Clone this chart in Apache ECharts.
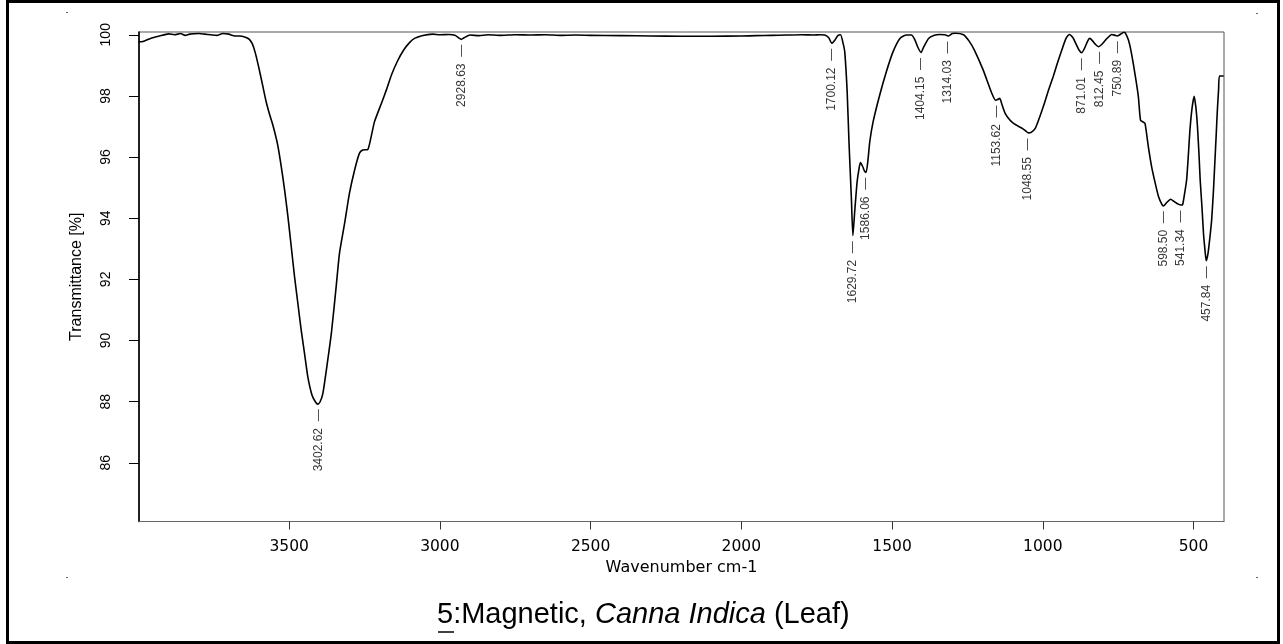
<!DOCTYPE html>
<html>
<head>
<meta charset="utf-8">
<style>
  html, body { margin: 0; padding: 0; background: #fff; }
  #chart { width: 1283px; height: 644px; }
</style>
<script src="https://cdn.jsdelivr.net/npm/echarts@6.0.0/dist/echarts.min.js"></script>
</head>
<body>
<div id="chart"></div>
<script>
// Spectrum (wavenumber cm-1, transmittance %)
const wavenumbers = [4000,3985,3960,3930,3900,3880,3860,3845,3830,3800,3780,3760,3740,3720,3700,3680,3665,3645,3632,3622,3612,3600,3588,3576,3565,3554,3538,3526,3515,3504,3493,3482,3471,3460,3449,3438,3424,3412,3405,3398,3388,3375,3360,3344,3333,3316,3300,3283,3267,3256,3239,3228,3217,3194,3178,3160,3140,3120,3100,3084,3060,3024,3000,2970,2950,2935,2929,2920,2900,2870,2840,2800,2750,2700,2650,2600,2550,2500,2400,2300,2200,2100,2000,1950,1900,1850,1800,1760,1740,1723,1710,1700,1690,1680,1671,1662,1657,1649,1643,1635,1630,1624,1616,1610,1605,1598,1592,1586,1580,1574,1563,1541,1519,1497,1474,1452,1436,1425,1415,1404,1395,1379,1360,1343,1325,1314,1300,1290,1263,1245,1227,1198,1169,1157,1150,1143,1135,1125,1110,1097,1080,1068,1055,1048,1040,1025,1010,995,981,966,952,937,923,912,900,890,880,871,862,850,844,835,825,815,805,790,771,760,753,745,731,727,716,708,700,690,683,676,668,661,650,639,627,616,605,600,590,576,565,551,541,536,529,523,517,512,505,498,492,487,482,478,472,467,462,458,452,446,440,434,429,425,421,417,414,400];
const transmittance = [99.77,99.78,99.88,99.96,100.03,100.00,100.04,99.98,100.02,100.04,100.02,100.00,99.98,100.04,100.02,99.96,99.96,99.92,99.85,99.70,99.40,98.90,98.35,97.80,97.40,97.05,96.40,95.68,94.92,94.05,93.07,92.08,91.21,90.34,89.58,88.81,88.21,87.98,87.92,87.98,88.27,89.14,90.23,91.76,92.85,93.83,94.81,95.57,96.12,96.23,96.25,96.66,97.15,97.75,98.18,98.70,99.15,99.50,99.75,99.88,99.97,100.02,100.00,100.01,99.98,99.88,99.85,99.90,99.99,99.97,100.00,99.98,100.00,99.99,100.00,99.98,99.99,99.98,99.97,99.96,99.95,99.95,99.96,99.97,99.98,99.99,100.00,99.99,100.00,99.99,99.90,99.72,99.82,99.97,100.00,99.70,99.44,98.14,96.50,94.65,93.43,94.21,95.19,95.60,95.82,95.70,95.55,95.50,95.90,96.50,97.15,98.03,98.79,99.44,99.88,99.99,99.99,99.85,99.60,99.42,99.60,99.88,99.98,100.01,100.00,99.96,100.04,100.05,100.00,99.80,99.50,98.85,98.08,97.86,97.88,97.92,97.70,97.43,97.22,97.10,97.00,96.94,96.84,96.79,96.80,96.94,97.32,97.75,98.19,98.62,99.06,99.50,99.88,100.01,99.90,99.70,99.50,99.41,99.55,99.82,99.88,99.80,99.68,99.61,99.68,99.85,100.01,99.98,99.96,100.00,100.08,100.07,99.83,99.50,99.06,98.45,97.97,97.21,97.15,97.10,96.34,95.68,95.14,94.70,94.45,94.40,94.50,94.62,94.55,94.46,94.43,94.45,94.85,95.25,96.10,96.88,97.60,97.99,97.60,96.99,96.10,95.25,94.35,93.50,92.95,92.61,92.85,93.35,93.94,94.90,95.90,96.70,97.54,98.20,98.65,98.65];

// Labelled peaks
const peakWavenumbers = [3402.62,2928.63,1700.12,1629.72,1586.06,1404.15,1314.03,1153.62,1048.55,871.01,812.45,750.89,598.50,541.34,457.84];
const peakValues = [87.93,99.85,99.72,93.43,95.50,99.42,99.96,97.87,96.79,99.41,99.62,99.97,94.41,94.43,92.61];

// Tick labels
const xTicks = [500,1000,1500,2000,2500,3000,3500];
const yTicks = [86,88,90,92,94,96,98,100];

const spectrum = wavenumbers.map((w, i) => [w, transmittance[i]]);
const peaks = peakWavenumbers.map((w, i) => [w, peakValues[i]]);

const chart = echarts.init(document.getElementById('chart'), null, {renderer: 'canvas'});
chart.setOption({
  animation: false,
  backgroundColor: '#fff',
  title: {
    text: '{u|5}:Magnetic, {i|Canna Indica} (Leaf)',
    left: 437,
    top: 600,
    padding: 0,
    textStyle: {
      fontFamily: 'Liberation Sans',
      fontSize: 29,
      fontWeight: 'normal',
      color: '#000',
      rich: {
        u: {fontFamily: 'Liberation Sans', fontSize: 29, color: '#000'},
        i: {fontFamily: 'Liberation Sans', fontSize: 29, fontStyle: 'italic', color: '#000'}
      }
    }
  },
  grid: {
    left: 139, right: 59, top: 32, bottom: 122.5,
    show: true, borderColor: '#555', borderWidth: 1, backgroundColor: 'transparent'
  },
  xAxis: {
    type: 'value',
    min: 399, max: 3998,
    inverse: true,
    name: 'Wavenumber cm-1',
    nameLocation: 'middle',
    nameGap: 38,
    nameTextStyle: {fontFamily: 'DejaVu Sans', fontSize: 16, color: '#000'},
    axisLine: {show: true, onZero: false, lineStyle: {color: '#666', width: 1}},
    axisTick: {show: true, length: 8, customValues: xTicks, lineStyle: {color: '#333', width: 1}},
    axisLabel: {customValues: xTicks, margin: 17, fontFamily: 'DejaVu Sans', fontSize: 15.5, color: '#000',
      formatter: v => String(v)},
    splitLine: {show: false}
  },
  yAxis: {
    type: 'value',
    min: 84.08, max: 100.09,
    name: 'Transmittance [%]',
    nameLocation: 'middle',
    nameGap: 54,
    nameTextStyle: {fontFamily: 'Liberation Sans', fontSize: 16, color: '#000'},
    axisLine: {show: true, onZero: false, lineStyle: {color: '#000', width: 1.6}},
    axisTick: {show: true, length: 10, customValues: yTicks, lineStyle: {color: '#000', width: 1}},
    axisLabel: {customValues: yTicks, rotate: 90, margin: 26, fontFamily: 'Liberation Sans', fontSize: 14, color: '#000',
      formatter: v => String(v)},
    splitLine: {show: false}
  },
  series: [
    {
      type: 'line',
      data: spectrum,
      showSymbol: false,
      smooth: 0.2,
      lineStyle: {color: '#000', width: 1.6},
      z: 3
    },
    {
      type: 'scatter',
      data: peaks,
      symbolSize: 1,
      itemStyle: {color: 'rgba(0,0,0,0)'},
      label: {
        show: true,
        position: 'bottom',
        distance: 5,
        rotate: 90,
        align: 'right',
        verticalAlign: 'middle',
        fontFamily: 'Liberation Sans',
        fontSize: 12,
        color: '#000',
        formatter: p => p.value[0].toFixed(2) + '  \u2014'
      },
      z: 4
    }
  ],
  graphic: [
    {type: 'rect', shape: {x: 7.5, y: 1.5, width: 1271, height: 641}, style: {fill: 'none', stroke: '#000', lineWidth: 3}, silent: true},
    {type: 'line', shape: {x1: 438, y1: 632, x2: 454, y2: 632}, style: {stroke: '#000', lineWidth: 1.5}, silent: true},
    {type: 'rect', shape: {x: 66, y: 12, width: 2, height: 1}, style: {fill: '#666'}, silent: true},
    {type: 'rect', shape: {x: 66, y: 577, width: 2, height: 1}, style: {fill: '#666'}, silent: true},
    {type: 'rect', shape: {x: 1256, y: 13, width: 2, height: 1}, style: {fill: '#666'}, silent: true},
    {type: 'rect', shape: {x: 1256, y: 577, width: 2, height: 1}, style: {fill: '#666'}, silent: true}
  ]
});
</script>
</body>
</html>
